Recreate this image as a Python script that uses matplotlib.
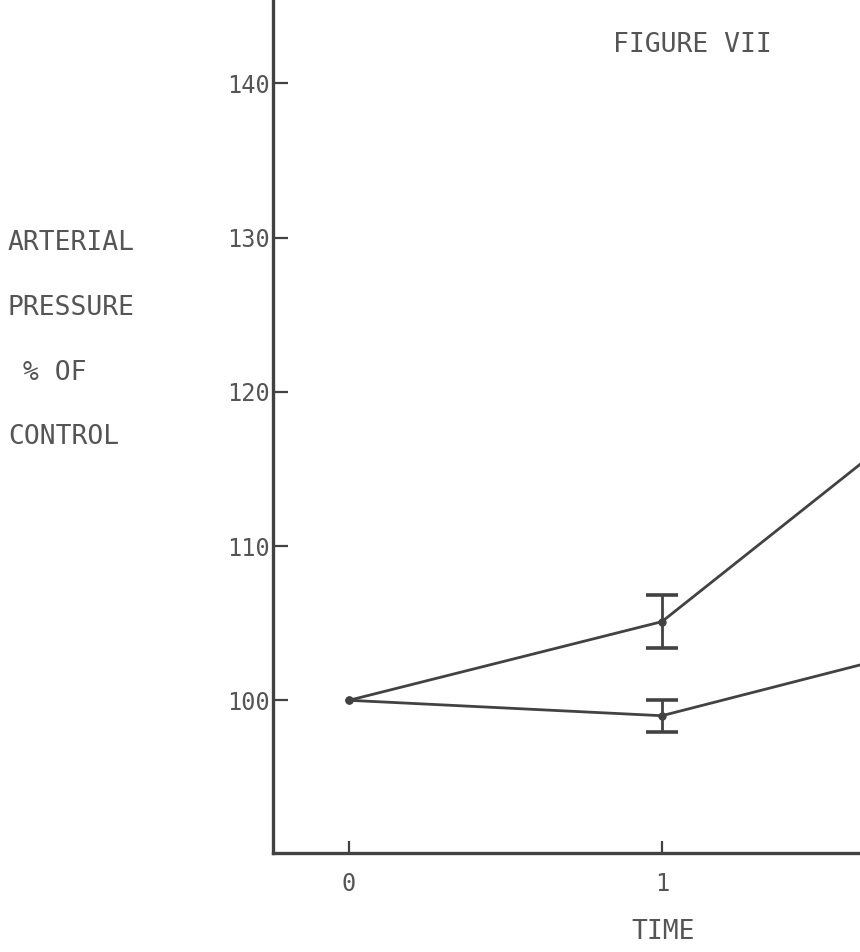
import numpy as np
import matplotlib
matplotlib.use("Agg")
import matplotlib.pyplot as plt

# values (% of control)
time = [0, 1, 2]
series_a = [100, 105.1, 121.2]
series_a_err = [0, 1.7, 0]
series_b = [100, 99.0, 104.2]
series_b_err = [0, 1.05, 0]
yticks = [100, 110, 120, 130, 140]
xticks = [0, 1]

INK = "#424242"
TXT = "#555555"
FONT = "DejaVu Sans Mono"

fig = plt.figure(figsize=(8.6, 9.52), dpi=100)
ax = fig.add_axes([273 / 860, 99 / 952, 1 - 273 / 860, 1 - 99 / 952])
ax.set_xlim(-0.243, 1.633)
ax.set_ylim(90.1, 145.4)

for vals, errs in ((series_a, series_a_err), (series_b, series_b_err)):
    ax.plot(time, vals, color=INK, lw=2.0, marker="o", ms=5,
            mfc=INK, mec=INK)
    # only the 1-unit point carries an error bar in the visible part
    t = [x for x, e in zip(time, errs) if e > 0]
    v = [y for y, e in zip(vals, errs) if e > 0]
    e = [e for e in errs if e > 0]
    ax.errorbar(t, v, yerr=e, fmt="none", ecolor=INK, elinewidth=2.0,
                capsize=11.5, capthick=2.6)

for side in ("top", "right"):
    ax.spines[side].set_visible(False)
for side in ("left", "bottom"):
    ax.spines[side].set_color(INK)
    ax.spines[side].set_linewidth(2.4)

ax.set_xticks(xticks)
ax.set_yticks(yticks)
ax.tick_params(axis="x", direction="in", length=9, width=1.6, color=INK,
               pad=14, labelsize=17, labelcolor=TXT)
ax.tick_params(axis="y", direction="in", length=11, width=1.6, color=INK,
               pad=2, labelsize=17, labelcolor=TXT)
for lab in ax.get_xticklabels() + ax.get_yticklabels():
    lab.set_family(FONT)

fig.text(613 / 860, 1 - 45 / 952, "FIGURE VII", family=FONT, fontsize=19,
         color=TXT, ha="left", va="center")
fig.text(663 / 860, 1 - 932 / 952, "TIME", family=FONT, fontsize=19,
         color=TXT, ha="center", va="center")
for label, x, y in (("ARTERIAL", 8, 243), ("PRESSURE", 8, 308),
                    ("% OF", 23, 373), ("CONTROL", 8, 437)):
    fig.text(x / 860, 1 - y / 952, label, family=FONT, fontsize=19,
             color=TXT, ha="left", va="center")

fig.savefig("out.png", dpi=100)
